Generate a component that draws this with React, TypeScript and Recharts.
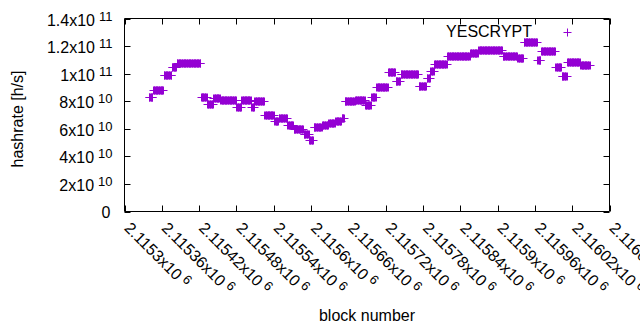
import React from 'react';
import { ScatterChart, Scatter, XAxis, YAxis, ReferenceArea, Legend } from 'recharts';

// Plateau runs: [start block, end block) at a constant hashrate
const segStart = [
  2115339, 2115346, 2115363, 2115376, 2115384, 2115423, 2115433, 2115443, 2115454, 2115480,
  2115488, 2115504, 2115509, 2115525, 2115541, 2115548, 2115562, 2115572, 2115588, 2115597,
  2115604, 2115618, 2115628, 2115639, 2115649, 2115654, 2115671, 2115687, 2115697, 2115705,
  2115724, 2115736, 2115744, 2115773, 2115786, 2115792, 2115798, 2115819, 2115856, 2115869,
  2115908, 2115932, 2115942, 2115964, 2115970, 2115993, 2116003, 2116012, 2116033,
];
const segEnd = [
  2115346, 2115363, 2115376, 2115384, 2115423, 2115433, 2115443, 2115454, 2115480, 2115488,
  2115504, 2115509, 2115525, 2115541, 2115548, 2115562, 2115572, 2115588, 2115597, 2115604,
  2115618, 2115628, 2115639, 2115649, 2115654, 2115671, 2115687, 2115697, 2115705, 2115724,
  2115736, 2115744, 2115773, 2115786, 2115792, 2115798, 2115819, 2115856, 2115869, 2115908,
  2115932, 2115942, 2115964, 2115970, 2115993, 2116003, 2116012, 2116033, 2116049,
];
const segValue = [
  8.3e10, 8.8e10, 9.9e10, 1.05e11, 1.08e11, 8.3e10, 7.8e10, 8.2e10, 8.1e10, 7.6e10,
  8.1e10, 7.6e10, 8.0e10, 7.0e10, 6.6e10, 6.8e10, 6.3e10, 6.0e10, 5.6e10, 5.2e10,
  6.1e10, 6.3e10, 6.45e10, 6.6e10, 6.8e10, 8.0e10, 8.1e10, 7.7e10, 8.3e10, 9.0e10,
  1.01e11, 9.5e10, 1.0e11, 9.1e10, 9.7e10, 1.02e11, 1.07e11, 1.13e11, 1.15e11, 1.17e11,
  1.13e11, 1.11e11, 1.23e11, 1.10e11, 1.165e11, 1.045e11, 9.8e10, 1.083e11, 1.064e11,
];

const xTicks = [
  2115300, 2115360, 2115420, 2115480, 2115540, 2115600, 2115660, 2115720,
  2115780, 2115840, 2115900, 2115960, 2116020, 2116080,
];
const yTicks = [0, 2e10, 4e10, 6e10, 8e10, 1e11, 1.2e11, 1.4e11];

const seriesName = 'YESCRYPT';

const data: { block: number; hashrate: number }[] = [];
segStart.forEach((s, i) => {
  for (let b = s; b < segEnd[i]; b++) data.push({ block: b, hashrate: segValue[i] });
});

const W = 640;
const H = 330;
const LEFT = 124.5;
const RIGHT = 609.5;
const TOP = 18.5;
const BOTTOM = 211.5;
const TICK = 6;
const FONT = '"Liberation Sans", Arial, sans-serif';
const FS = 16;
const FS_EXP = 13;
const COLOR = '#9400d3';

function splitExp(v: number): [string, string] {
  const e = Math.floor(Math.log10(v) + 1e-9);
  const m = parseFloat((v / Math.pow(10, e)).toFixed(5));
  return [String(m), String(e)];
}

const YTick = (props: any) => {
  const { y, payload } = props;
  const v = payload.value;
  const yy = Math.round(y) + 0.5;
  let label: React.ReactNode;
  if (v === 0) {
    label = (
      <text x={LEFT - 14} y={y + 1} textAnchor="end" dominantBaseline="central" fontSize={FS} fontFamily={FONT} fill="#000">
        0
      </text>
    );
  } else {
    const [m, e] = splitExp(v);
    label = (
      <text x={LEFT - 12} y={y + 1} textAnchor="end" dominantBaseline="central" fontSize={FS} fontFamily={FONT} fill="#000">
        <tspan>{m + 'x10'}</tspan>
        <tspan dx={4} dy={-4} fontSize={FS_EXP}>{e}</tspan>
      </text>
    );
  }
  return (
    <g>
      {label}
      <line x1={LEFT} x2={LEFT + TICK} y1={yy} y2={yy} stroke="#000" />
      <line x1={RIGHT - TICK} x2={RIGHT} y1={yy} y2={yy} stroke="#000" />
    </g>
  );
};

const XTick = (props: any) => {
  const { x, payload } = props;
  const v = payload.value;
  const xx = Math.round(x) + 0.5;
  const m = parseFloat((v / 1e6).toFixed(6)).toString();
  const ax = x - 1;
  const ay = 229;
  return (
    <g>
      <line x1={xx} x2={xx} y1={BOTTOM} y2={BOTTOM - TICK} stroke="#000" />
      <line x1={xx} x2={xx} y1={TOP} y2={TOP + TICK} stroke="#000" />
      <text
        x={ax}
        y={ay}
        textAnchor="start"
        fontSize={FS}
        fontFamily={FONT}
        fill="#000"
        transform={`rotate(45 ${ax} ${ay})`}
      >
        <tspan>{m + 'x10'}</tspan>
        <tspan dx={4} dy={-5} fontSize={FS_EXP}>6</tspan>
      </text>
    </g>
  );
};

const Plus = (props: any) => {
  const { cx, cy } = props;
  if (cx == null || cy == null) return null;
  const x = Math.round(cx) + 0.5;
  const y = Math.round(cy) + 0.5;
  return <path d={`M${x - 4},${y}h8M${x},${y - 4}v8`} stroke={COLOR} strokeWidth={1} fill="none" />;
};

const LegendContent = (props: any) => {
  const p = props.payload && props.payload[0];
  const name = p ? p.value : seriesName;
  return (
    <div style={{ position: 'relative', width: 0, height: 0 }}>
      <div
        style={{
          position: 'absolute',
          left: 300,
          width: 232,
          top: 22,
          textAlign: 'right',
          fontFamily: FONT,
          fontSize: FS,
          lineHeight: '19px',
          color: '#000',
          whiteSpace: 'nowrap',
        }}
      >
        {name}
      </div>
      <svg style={{ position: 'absolute', left: 560, top: 25, overflow: 'visible' }} width={16} height={16}>
        <path d="M3.5,7.5h8M7.5,3.5v8" stroke={COLOR} strokeWidth={1} fill="none" />
      </svg>
    </div>
  );
};

export default function App() {
  return (
    <div style={{ position: 'absolute', left: 0, top: 0, width: W, height: H, background: '#fff' }}>
      <ScatterChart
        width={W}
        height={H}
        margin={{ top: TOP, right: W - RIGHT, bottom: 0, left: 0 }}
      >
        <XAxis
          type="number"
          dataKey="block"
          domain={[2115300, 2116080]}
          ticks={xTicks}
          interval={0}
          allowDataOverflow
          height={H - BOTTOM}
          axisLine={false}
          tickLine={false}
          tick={<XTick />}
          label={() => (
            <text
              x={(LEFT + RIGHT) / 2}
              y={315}
              textAnchor="middle"
              dominantBaseline="central"
              fontSize={FS}
              fontFamily={FONT}
              fill="#000"
            >
              block number
            </text>
          )}
        />
        <YAxis
          type="number"
          dataKey="hashrate"
          domain={[0, 1.4e11]}
          ticks={yTicks}
          interval={0}
          allowDataOverflow
          width={LEFT}
          axisLine={false}
          tickLine={false}
          tick={<YTick />}
          label={() => (
            <text
              x={17}
              y={119}
              textAnchor="middle"
              dominantBaseline="central"
              fontSize={FS}
              fontFamily={FONT}
              fill="#000"
              transform={`rotate(-90 17 119)`}
            >
              hashrate [h/s]
            </text>
          )}
        />
        <ReferenceArea
          x1={2115300}
          x2={2116080}
          y1={0}
          y2={1.4e11}
          fill="none"
          fillOpacity={0}
          stroke="#000"
          strokeWidth={1}
          strokeOpacity={1}
        />
        <Scatter
          name={seriesName}
          data={data}
          fill={COLOR}
          shape={<Plus />}
          isAnimationActive={false}
        />
        <Legend
          content={<LegendContent />}
          wrapperStyle={{ position: 'absolute', left: 0, top: 0, width: 0, height: 0 }}
        />
      </ScatterChart>
    </div>
  );
}
